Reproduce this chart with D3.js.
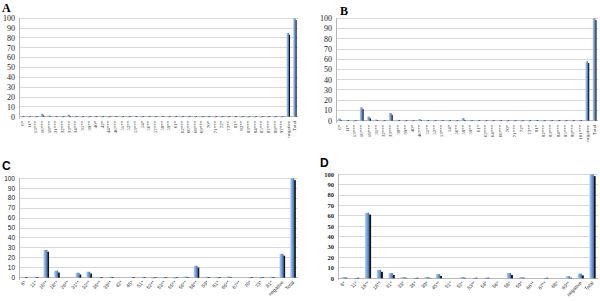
<!DOCTYPE html>
<html>
<head>
<meta charset="utf-8">
<script src="https://cdn.jsdelivr.net/npm/d3@7"></script>
<style>
  body { margin: 0; background: #fff; }
  svg { display: block; }
</style>
</head>
<body>
<svg id="chart" width="600" height="301"></svg>
<script>
// Four panels of percent values, Excel-style 3D columns

const yTicks = [0, 10, 20, 30, 40, 50, 60, 70, 80, 90, 100];

const categoriesA = ["6*", "11*", "13***", "16***", "18***", "31***", "32***", "33***", "34***", "35**",
  "39**", "40*", "42*", "44***", "46***", "51**", "52**", "53***", "54*", "56**",
  "57***", "58**", "59**", "61*", "62***", "66***", "68***", "69***", "70*", "71***",
  "72*", "73**", "81*", "82**", "83***", "84***", "85***", "87***", "89***", "97***",
  "negative", "Total"];
const valuesA = [0.3, 0.3, 0.2, 3, 1, 0.5, 0.2, 2, 0.3, 0.2,
  0.2, 0.2, 0.2, 0.2, 0.5, 0.2, 0.2, 0.5, 0.2, 0.3,
  0.3, 0.8, 0.2, 0.3, 0.2, 0.2, 0.2, 0.2, 0.2, 0.2,
  0.2, 0.2, 0.3, 0.2, 0.2, 0.2, 0.2, 0.2, 0.2, 0.2,
  85, 100];

const categoriesB = ["6*", "11*", "13***", "16***", "18***", "31**", "32***", "33***", "38**", "39**",
  "40*", "46***", "51**", "52**", "53***", "54*", "56**", "58**", "59**", "61*",
  "62***", "64***", "66***", "70*", "71***", "72*", "73**", "81*", "82***", "83***",
  "84***", "85***", "89***", "101***", "negative", "Total"];
const valuesB = [2, 0.5, 0.2, 13, 4, 1, 0.2, 7.5, 0.2, 0.2,
  0.2, 1.5, 0.3, 0.3, 0.5, 0.2, 0.2, 2.5, 0.3, 0.3,
  0.3, 0.2, 0.3, 0.2, 0.2, 0.2, 0.2, 0.5, 0.2, 0.2,
  0.2, 0.2, 0.2, 0.2, 58, 100];

const categoriesC = ["6*", "11*", "16**", "18**", "26**", "31**", "32**", "35**", "39**", "42*",
  "45*", "51*", "52**", "53**", "55**", "56**", "58**", "59*", "61*", "66**",
  "67**", "70*", "73*", "81*", "negative", "Total"];
const valuesC = [0.5, 0.8, 28, 7, 0, 5, 6, 0.3, 0.8, 0,
  0.5, 0.5, 0.2, 0.3, 0.2, 1, 12, 0.8, 0.3, 1,
  0, 0.3, 0.3, 0.8, 24, 100];

const categoriesD = ["6*", "11*", "16**", "18**", "31*", "33*", "35*", "39*", "45**", "51*",
  "52*", "53**", "54*", "56*", "58*", "59*", "66**", "67**", "68*", "69**",
  "negative", "Total"];
const valuesD = [1, 0.3, 63, 8, 5, 1, 0.3, 1, 4, 0,
  1, 0.3, 0.5, 0, 5, 1, 0, 0.3, 0, 2,
  4.5, 100];

const svg = d3.select('#chart');

// gradient for the front face of the columns
const defs = svg.append('defs');
const grad = defs.append('linearGradient').attr('id', 'colFace')
  .attr('x1', '0%').attr('x2', '100%').attr('y1', '0%').attr('y2', '0%');
grad.append('stop').attr('offset', '0%').attr('stop-color', '#b7d2f4');
grad.append('stop').attr('offset', '55%').attr('stop-color', '#6f9fe0');
grad.append('stop').attr('offset', '100%').attr('stop-color', '#3a6cc0');

function drawPanel(p) {
  const g = svg.append('g');

  const x = d3.scaleBand().domain(p.categories).range([p.left, p.right]);
  const y = d3.scaleLinear().domain([0, 100]).range([p.bottom, p.top]);

  // gridlines
  g.selectAll('line.grid').data(yTicks).enter().append('line')
    .attr('x1', p.left).attr('x2', p.right)
    .attr('y1', d => y(d)).attr('y2', d => y(d))
    .attr('stroke', d => d === 0 ? '#b8b8b8' : '#d9d9d9')
    .attr('stroke-width', 1)
    .attr('shape-rendering', 'crispEdges');

  // left axis line
  g.append('line')
    .attr('x1', p.left).attr('x2', p.left)
    .attr('y1', y(100)).attr('y2', y(0) + 2)
    .attr('stroke', '#b8b8b8')
    .attr('shape-rendering', 'crispEdges');

  // y tick labels
  g.selectAll('text.ytick').data(yTicks).enter().append('text')
    .attr('x', p.left - 4)
    .attr('y', d => y(d))
    .attr('dy', '0.35em')
    .attr('text-anchor', 'end')
    .style('font-family', p.tickFont)
    .style('font-size', p.tickSize + 'px')
    .style('font-weight', p.tickWeight || 'normal')
    .attr('fill', '#222')
    .text(d => d);

  // columns: front face + dark side
  const bw = x.bandwidth();
  const data = p.categories.map((c, i) => ({ cat: c, v: p.values[i] }));
  const bars = g.selectAll('g.bar').data(data.filter(d => d.v > 0)).enter().append('g');
  bars.append('rect')
    .attr('x', d => x(d.cat) + bw * 0.28)
    .attr('y', d => y(d.v))
    .attr('width', bw * 0.36)
    .attr('height', d => Math.max(0.8, y(0) - y(d.v)))
    .attr('fill', 'url(#colFace)');
  bars.append('rect')
    .attr('x', d => x(d.cat) + bw * 0.64)
    .attr('y', d => Math.min(y(0) - 0.6, y(d.v) + 1.8))
    .attr('width', bw * 0.16)
    .attr('height', d => Math.max(0.6, y(0) - y(d.v) - 1.8))
    .attr('fill', '#111');

  // x labels
  const lab = g.selectAll('text.xlab').data(p.categories).enter().append('text')
    .style('font-family', p.labelFont)
    .style('font-size', p.labelSize + 'px')
    .attr('fill', '#333')
    .attr('text-anchor', 'end')
    .text(d => d);
  if (p.rotate === -90) {
    lab.attr('transform', d => `translate(${x(d) + bw / 2 + 1.8},${p.bottom + 4}) rotate(-90)`);
  } else {
    lab.attr('transform', d => `translate(${x(d) + bw / 2 + 2},${p.bottom + 5}) rotate(-45)`);
  }

  // panel letter
  g.append('text')
    .attr('x', p.letterX).attr('y', p.letterY)
    .style('font-family', p.letterFont)
    .style('font-size', '12px')
    .style('font-weight', 'bold')
    .attr('fill', '#000')
    .text(p.letter);
}

drawPanel({ letter: 'A', letterX: 2, letterY: 11.5, letterFont: 'Liberation Serif',
  categories: categoriesA, values: valuesA,
  left: 19, right: 298, top: 18.3, bottom: 116.7,
  tickFont: 'Liberation Serif', tickSize: 8, labelFont: 'Liberation Serif', labelSize: 5, rotate: -90 });

drawPanel({ letter: 'B', letterX: 340, letterY: 14.5, letterFont: 'Liberation Serif',
  categories: categoriesB, values: valuesB,
  left: 336, right: 598, top: 18.3, bottom: 120.7,
  tickFont: 'Liberation Serif', tickSize: 8, labelFont: 'Liberation Serif', labelSize: 5, rotate: -90 });

drawPanel({ letter: 'C', letterX: 2, letterY: 170, letterFont: 'Liberation Sans',
  categories: categoriesC, values: valuesC,
  left: 19, right: 298, top: 178.3, bottom: 277.7,
  tickFont: 'Liberation Sans', tickSize: 6.5, labelFont: 'Liberation Sans', labelSize: 5, rotate: -45 });

drawPanel({ letter: 'D', letterX: 320, letterY: 167, letterFont: 'Liberation Sans',
  categories: categoriesD, values: valuesD,
  left: 338, right: 598, top: 174.3, bottom: 278.3,
  tickFont: 'Liberation Serif', tickSize: 6.5, tickWeight: 'bold', labelFont: 'Liberation Sans', labelSize: 5, rotate: -45 });
</script>
</body>
</html>
